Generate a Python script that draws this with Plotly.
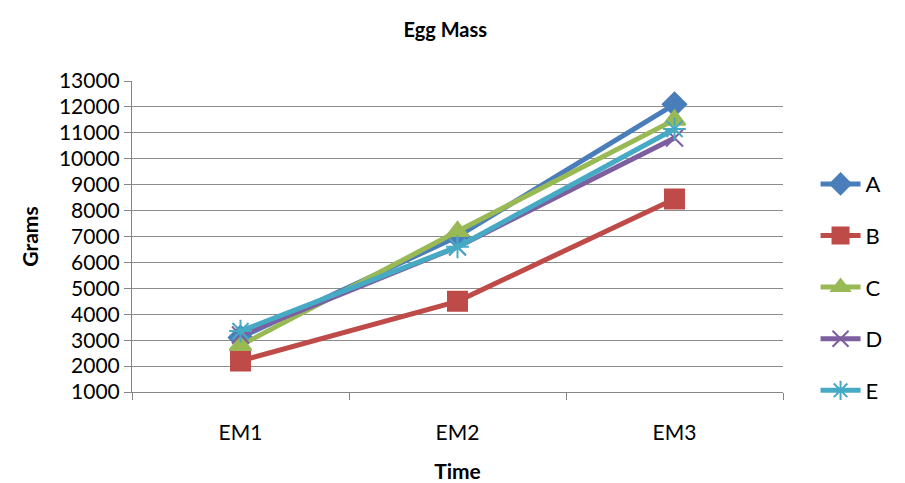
import plotly.graph_objects as go

# Egg mass measurements per group at three time points
time_points = ["EM1", "EM2", "EM3"]
group_names = ["A", "B", "C", "D", "E"]
mass_a = [3100, 7000, 12100]
mass_b = [2200, 4500, 8450]
mass_c = [2800, 7200, 11500]
mass_d = [3200, 6600, 10800]
mass_e = [3350, 6600, 11150]
series_values = [mass_a, mass_b, mass_c, mass_d, mass_e]
y_ticks = list(range(1000, 14000, 1000))

colors = ["#4A7EBB", "#BE4B48", "#98B954", "#7D5FA0", "#46AAC5"]
symbols = ["diamond", "square", "triangle-up", "x-thin-open", "asterisk-open"]
sizes = [18, 19, 19, 17, 19]

FONT = "Lato, 'Noto Sans', sans-serif"

fig = go.Figure()
for name, vals, col, sym, sz in zip(group_names, series_values, colors, symbols, sizes):
    fig.add_trace(go.Scatter(
        x=time_points, y=vals, name=name, mode="lines+markers",
        legendgroup=name,
        line=dict(color=col, width=5),
        marker=dict(symbol=sym, size=sz, color=col,
                    line=dict(color=col, width=2)),
    ))

fig.update_layout(
    width=905, height=483,
    margin=dict(l=132, r=122, t=81, b=91, autoexpand=False),
    paper_bgcolor="white", plot_bgcolor="white",
    font=dict(family=FONT, size=21, color="#000000"),
    title=dict(text="<b>Egg Mass</b>", x=0.492, xanchor="center",
               y=0.938, yanchor="middle", font=dict(size=20)),
    legend=dict(x=1.05, y=0.736, xanchor="left", yanchor="top",
                tracegroupgap=20, font=dict(size=22),
                bgcolor="rgba(0,0,0,0)", itemwidth=40),
    showlegend=True,
)

fig.update_xaxes(
    type="category", range=[-0.5, 2.5], automargin=False,
    showline=True, linecolor="#868686", linewidth=1,
    ticks="outside", ticklen=7, tickcolor="#868686", tickson="boundaries",
    ticklabelstandoff=22,
    showgrid=False, tickfont=dict(size=21),
    title=dict(text="<b>Time</b>", font=dict(size=21), standoff=22),
)
fig.update_yaxes(
    range=[1000, 13000], tickvals=y_ticks, tickformat="d", automargin=False,
    showline=True, linecolor="#868686", linewidth=1,
    ticks="outside", ticklen=7, tickcolor="#868686",
    showgrid=True, gridcolor="#8C8C8C", gridwidth=1,
    zeroline=False, tickfont=dict(size=21),
    title=dict(text="<b>Grams</b>", font=dict(size=21), standoff=14),
)

fig.write_html("out.html")
